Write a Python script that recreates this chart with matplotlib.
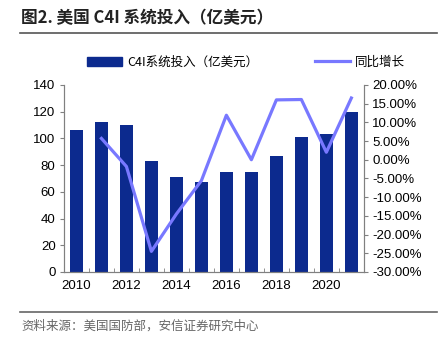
import matplotlib.pyplot as plt
from matplotlib.lines import Line2D
from matplotlib.ticker import FixedLocator

plt.rcParams['font.family'] = ['Liberation Sans', 'Noto Sans CJK SC', 'DejaVu Sans']

# Data
years = [2010, 2011, 2012, 2013, 2014, 2015, 2016, 2017, 2018, 2019, 2020, 2021]
spend = [106, 112, 110, 83, 71, 67, 75, 75, 87, 101, 103, 120]
growth_years = years[1:]
growth = [5.7, -1.8, -24.5, -14.5, -5.6, 11.9, 0.0, 16.0, 16.1, 2.0, 16.5]

bar_color = '#0C2A8E'
line_color = '#7878FF'
axis_color = '#808080'
cjk = ['Noto Sans CJK SC', 'Liberation Sans']

fig = plt.figure(figsize=(4.47, 3.37), dpi=100)
ax = fig.add_axes([0.143, 0.193, 0.671, 0.555])
ax2 = ax.twinx()

ax.bar(years, spend, width=0.52, color=bar_color, zorder=2)
ax2.plot(growth_years, growth, color=line_color, lw=2.3, zorder=3)
ax.set_zorder(ax2.get_zorder() - 1)
ax2.patch.set_visible(False)

ax.set_xlim(2009.5, 2021.5)
ax.set_ylim(0, 140)
ax.set_yticks(range(0, 141, 20))
ax2.set_ylim(-30, 20)
ax2.set_yticks(range(-30, 21, 5))
ax2.set_yticklabels([f'{v:.2f}%' for v in range(-30, 21, 5)])

ax.set_xticks([2010, 2012, 2014, 2016, 2018, 2020])
ax.xaxis.set_minor_locator(FixedLocator([y + 0.5 for y in range(2009, 2022)]))
ax.tick_params(axis='x', which='major', length=0, pad=6, labelsize=9.5)
ax.tick_params(axis='x', which='minor', length=3, color=axis_color, direction='in')
ax.tick_params(axis='y', length=3, color=axis_color, labelsize=9.5, pad=3)
ax2.tick_params(axis='y', length=3, color=axis_color, labelsize=9.5, pad=3)

for a in (ax, ax2):
    a.spines['top'].set_visible(False)
    for s in ('left', 'right', 'bottom'):
        a.spines[s].set_color(axis_color)
        a.spines[s].set_linewidth(0.8)

handles = [plt.Rectangle((0, 0), 1, 1, color=bar_color),
           Line2D([0], [0], color=line_color, lw=2.3)]
fig.legend(handles, ['C4I系统投入（亿美元）', '同比增长'], loc='center',
           bbox_to_anchor=(0.55, 0.815), ncol=2, frameon=False,
           prop={'family': cjk, 'size': 9},
           handlelength=2.8, columnspacing=4.5, handletextpad=0.4)

fig.text(0.047, 0.945, '图2. 美国 C4I 系统投入（亿美元）', fontsize=12,
         fontweight='bold', va='center', ha='left', color='#222222', family=cjk)
fig.add_artist(Line2D([0.045, 0.978], [0.902, 0.902], color='#555555', lw=1.2))
fig.add_artist(Line2D([0.045, 0.978], [0.073, 0.073], color='#666666', lw=1.2))
fig.text(0.047, 0.033, '资料来源：美国国防部，安信证券研究中心', fontsize=9,
         va='center', ha='left', color='#666666', family=cjk)

fig.savefig('out.png', dpi=100)
